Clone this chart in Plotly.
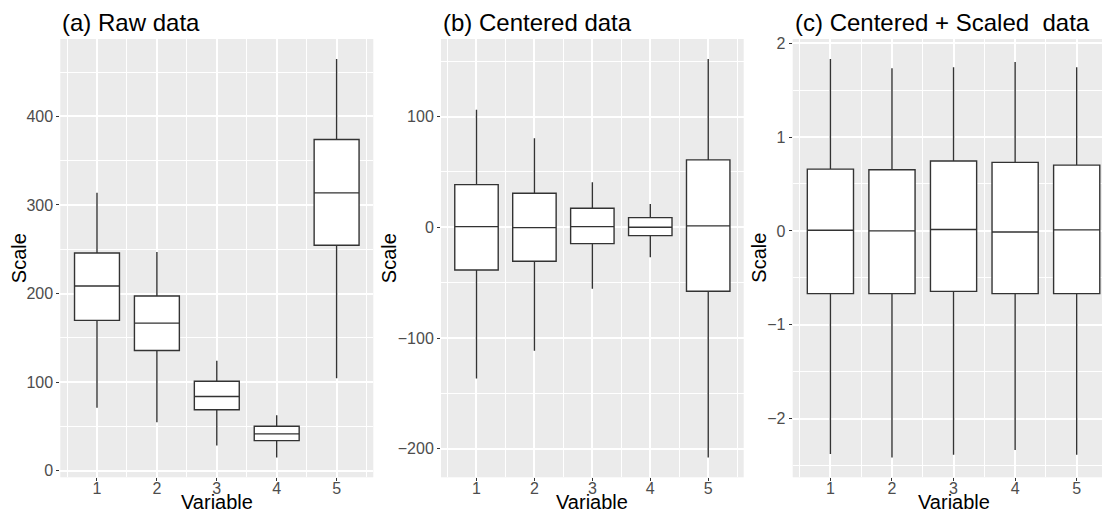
import plotly.graph_objects as go

W, H = 1102, 514

variables = [1, 2, 3, 4, 5]
tick_labels = ["1", "2", "3", "4", "5"]

# (a) Raw data
raw_lower = [70.9, 54.7, 28.3, 15.0, 104.4]
raw_q1 = [169.7, 135.7, 68.7, 33.9, 254.5]
raw_med = [208.5, 166.6, 83.7, 41.5, 313.7]
raw_q3 = [245.8, 197.2, 101.0, 50.1, 374.0]
raw_upper = [313.7, 247.0, 124.1, 62.6, 464.9]

# (b) Centered data
cen_lower = [-136.5, -111.5, -55.5, -27.1, -207.8]
cen_q1 = [-38.6, -30.7, -14.8, -7.6, -57.8]
cen_med = [0.6, -0.3, 0.6, 0.0, 1.2]
cen_q3 = [38.5, 30.7, 17.2, 8.7, 60.8]
cen_upper = [106.0, 80.4, 40.7, 21.0, 152.0]

# (c) Centered + Scaled data
sc_lower = [-2.376, -2.412, -2.383, -2.333, -2.383]
sc_q1 = [-0.668, -0.668, -0.644, -0.668, -0.668]
sc_med = [0.007, 0.0, 0.015, -0.011, 0.011]
sc_q3 = [0.658, 0.651, 0.744, 0.730, 0.701]
sc_upper = [1.832, 1.733, 1.744, 1.800, 1.744]

titles = ["(a) Raw data", "(b) Centered data", "(c) Centered + Scaled  data"]

panels = [
    (raw_lower, raw_q1, raw_med, raw_q3, raw_upper, 100, 50),
    (cen_lower, cen_q1, cen_med, cen_q3, cen_upper, 100, 50),
    (sc_lower, sc_q1, sc_med, sc_q3, sc_upper, 1, 0.5),
]

# panel pixel extents (left, right) ; top/bottom
px_lr = [(60.3, 373.3), (441.0, 743.7), (792.7, 1114.4)]
px_top, px_bot = 39.0, 477.3
xr_full = [0.3875, 5.6125]

FONT = "Liberation Sans, Arial, Helvetica, sans-serif"
TICKFONT = dict(size=16, color="#4D4D4D", family=FONT)

fig = go.Figure()
layout = dict(
    width=W, height=H,
    margin=dict(l=0, r=0, t=0, b=0),
    paper_bgcolor="white",
    plot_bgcolor="#EBEBEB",
    showlegend=False,
    font=dict(family=FONT, size=16, color="#4D4D4D"),
)
annotations = []

for i, (lo, q1, med, q3, up, dt, mdt) in enumerate(panels):
    sfx = "" if i == 0 else str(i + 1)
    fig.add_trace(go.Box(
        x=variables, q1=q1, median=med, q3=q3, lowerfence=lo, upperfence=up,
        width=0.75, fillcolor="white",
        line=dict(color="#333333", width=1.4),
        whiskerwidth=0, boxpoints=False, hoverinfo="skip",
        xaxis="x" + sfx, yaxis="y" + sfx, showlegend=False,
    ))
    ymin, ymax = min(lo), max(up)
    pad = 0.05 * (ymax - ymin)
    yr = [ymin - pad, ymax + pad]

    left, right = px_lr[i]
    d0 = left / W
    if right > W:
        d1 = 1.0
        xr = [xr_full[0], xr_full[0] + (W - left) / (right - left) * (xr_full[1] - xr_full[0])]
    else:
        d1 = right / W
        xr = xr_full

    layout["xaxis" + sfx] = dict(
        domain=[d0, d1], range=xr, anchor="y" + sfx,
        tickmode="array", tickvals=variables, ticktext=tick_labels,
        ticks="outside", ticklen=3, tickwidth=1, tickcolor="#333333",
        tickfont=TICKFONT, ticklabelstandoff=-7,
        showgrid=True, gridcolor="white", gridwidth=1.5,
        minor=dict(tickmode="array", tickvals=[v - 0.5 for v in variables] + [variables[-1] + 0.5],
                   showgrid=True, gridcolor="white", gridwidth=0.7, ticks=""),
        zeroline=False, showline=False, automargin=False, fixedrange=True,
    )
    layout["yaxis" + sfx] = dict(
        domain=[1 - px_bot / H, 1 - px_top / H], range=yr, anchor="x" + sfx,
        tickmode="linear", tick0=0, dtick=dt,
        ticks="outside", ticklen=3, tickwidth=1, tickcolor="#333333",
        tickfont=TICKFONT,
        showgrid=True, gridcolor="white", gridwidth=1.5,
        minor=dict(tick0=0, dtick=mdt, showgrid=True, gridcolor="white", gridwidth=0.7, ticks=""),
        zeroline=False, showline=False, automargin=False, fixedrange=True,
    )

    # panel title
    annotations.append(dict(
        text=titles[i], xref="paper", yref="paper",
        x=left / W, y=1 - 38.5 / H, xanchor="left", yanchor="bottom",
        showarrow=False, font=dict(size=24, color="black", family=FONT),
    ))
    # x axis title
    annotations.append(dict(
        text="Variable", xref="paper", yref="paper",
        x=(left + right) / 2 / W, y=0, xanchor="center", yanchor="bottom",
        borderpad=0,
        showarrow=False, font=dict(size=20, color="black", family=FONT),
    ))
    # y axis title
    ytx = [19.0, 389.0, 759.5][i]
    annotations.append(dict(
        text="Scale", xref="paper", yref="paper", textangle=-90,
        x=ytx / W, y=1 - (px_top + px_bot) / 2 / H, xanchor="center", yanchor="middle",
        showarrow=False, font=dict(size=20, color="black", family=FONT),
    ))

layout["annotations"] = annotations
fig.update_layout(**layout)
fig.write_html("out.html")
